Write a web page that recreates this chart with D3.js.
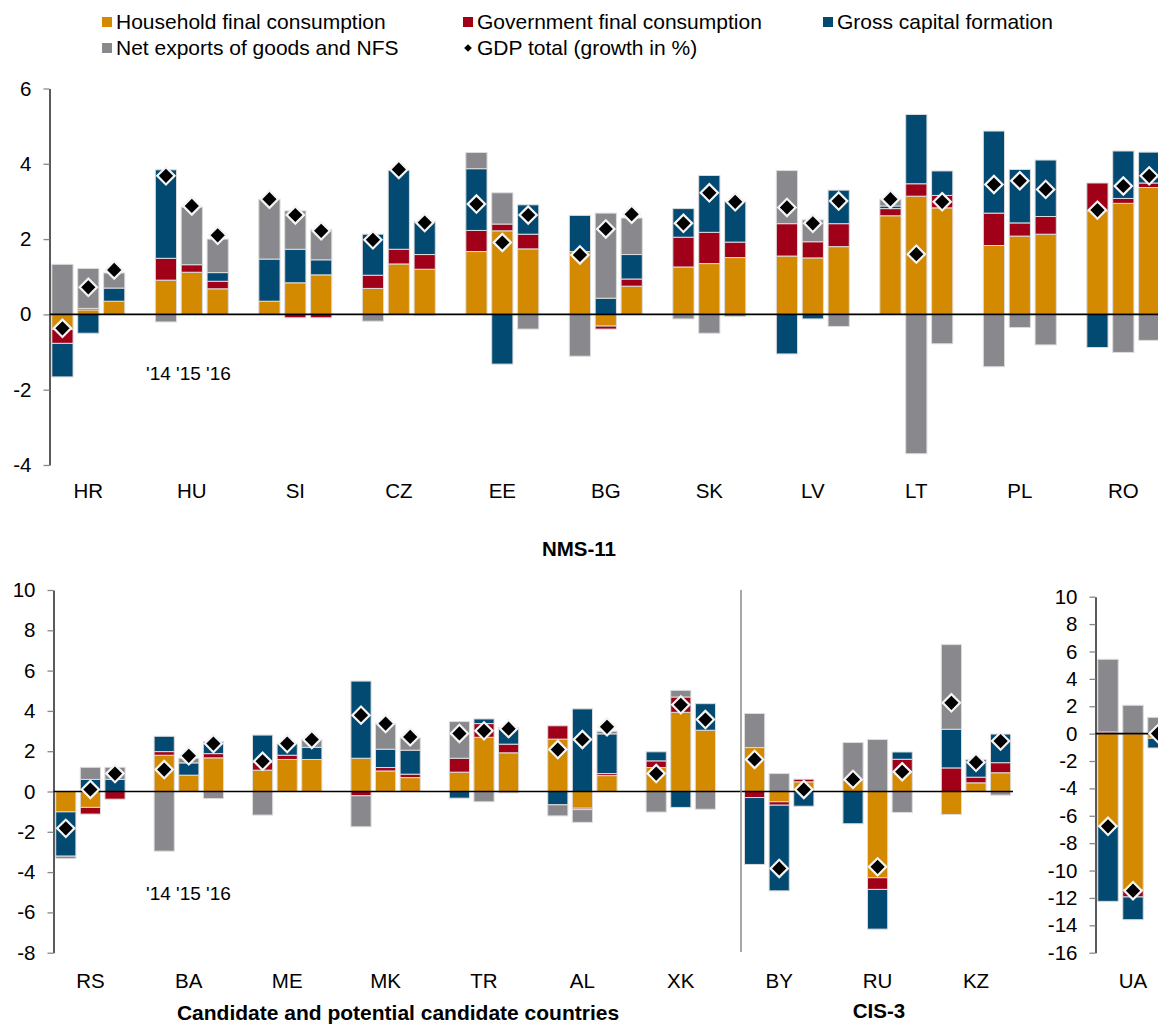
<!DOCTYPE html>
<html><head><meta charset="utf-8">
<script src="https://cdn.jsdelivr.net/npm/d3@7"></script>
<style>
body{margin:0;background:#fff}
text{font-family:"Liberation Sans",Arial,sans-serif;fill:#000}
</style>
</head><body>
<svg id="c" width="1158" height="1025"></svg>
<script>
// ---------- data ----------
const years = ["'14", "'15", "'16"];
const seriesNames = ["Household final consumption", "Government final consumption", "Gross capital formation", "Net exports of goods and NFS"];
const gdpName = "GDP total (growth in %)";
const seriesColors = ["#D48A00", "#A00018", "#034A72", "#89888D"];

// NMS-11 (top panel)
const nmsCountries = ["HR", "HU", "SI", "CZ", "EE", "BG", "SK", "LV", "LT", "PL", "RO"];
const nmsHousehold = [[-0.40,0.12,0.35],[0.91,1.12,0.68],[0.35,0.84,1.05],[0.69,1.34,1.20],[1.67,2.22,1.74],[1.67,-0.31,0.75],[1.26,1.35,1.51],[1.55,1.50,1.80],[2.62,3.14,2.83],[1.83,2.08,2.13],[2.75,2.95,3.37]];
const nmsGovernment = [[-0.37,0.04,0],[0.58,0.20,0.20],[0,-0.09,-0.09],[0.35,0.39,0.39],[0.56,0.18,0.39],[0,-0.08,0.19],[0.79,0.83,0.41],[0.86,0.43,0.61],[0.19,0.33,0.33],[0.86,0.35,0.47],[0.74,0.13,0.12]];
const nmsCapital = [[-0.89,-0.50,0.35],[2.35,0,0.23],[1.12,0.89,0.40],[1.09,2.10,0.87],[1.64,-1.32,0.78],[0.96,0.43,0.65],[0.76,1.51,1.08],[-1.05,-0.12,0.89],[0.07,1.84,0.65],[2.18,1.42,1.50],[-0.88,1.26,0.82]];
const nmsNetExports = [[1.33,1.06,0.40],[-0.20,1.53,0.89],[1.59,1.02,0.80],[-0.18,0,-0.03],[0.43,0.83,-0.39],[-1.11,2.26,0.97],[-0.12,-0.50,-0.06],[1.41,0.58,-0.32],[0.18,-3.70,-0.78],[-1.39,-0.35,-0.81],[0,-1.01,-0.69]];
const nmsGDP = [[-0.37,0.72,1.18],[3.68,2.88,2.10],[3.06,2.64,2.22],[1.98,3.85,2.44],[2.93,1.91,2.64],[1.58,2.27,2.66],[2.42,3.23,2.99],[2.84,2.42,3.01],[3.06,1.60,2.99],[3.45,3.55,3.32],[2.77,3.41,3.68]];

// Candidate countries + CIS-3 (bottom panel)
const candCountries = ["RS", "BA", "ME", "MK", "TR", "AL", "XK", "BY", "RU", "KZ"];
const candHousehold = [[-1.01,-0.79,0],[1.80,0.81,1.67],[1.06,1.59,1.59],[1.65,1.02,0.69],[0.96,2.69,1.92],[2.60,-0.83,0.79],[1.19,3.93,3.04],[2.18,-0.51,0.48],[0.56,-4.28,0.96],[-1.14,0.43,0.93]];
const candGovernment = [[0,-0.33,-0.38],[0.18,0,0.21],[0.40,0.21,0],[-0.21,0.17,0.17],[0.69,0.68,0.43],[0.66,-0.07,0.10],[0.33,0.76,0],[-0.30,-0.17,0.13],[0,-0.58,0.64],[1.17,0.28,0.50]];
const candCapital = [[-2.20,0.60,0.60],[0.76,0.61,0.60],[1.34,0.58,0.60],[3.83,0.91,1.19],[-0.33,0.23,0.81],[-0.66,4.10,1.97],[0.45,-0.79,1.32],[-3.32,-4.25,-0.73],[-1.60,-1.97,0.36],[1.92,0.88,1.42]];
const candNetExports = [[-0.12,0.60,0.60],[-2.96,0.23,-0.35],[-1.17,0,0.40],[-1.54,1.27,0.61],[1.82,-0.51,-0.07],[-0.55,-0.63,0.13],[-1.02,0.33,-0.88],[1.69,0.89,0],[1.87,2.58,-1.04],[4.20,0,-0.18]];
const candGDP = [[-1.83,0.10,0.89],[1.09,1.77,2.38],[1.50,2.38,2.58],[3.79,3.37,2.71],[2.88,3.01,3.12],[2.08,2.58,3.21],[0.89,4.30,3.57],[1.59,-3.82,0.10],[0.60,-3.74,0.98],[4.40,1.45,2.50]];

// Ukraine (separate panel)
const uaCountries = ["UA"];
const uaHousehold = [[-6.77,-11.39,-0.34]];
const uaGovernment = [[0.12,-0.54,0]];
const uaCapital = [[-5.48,-1.66,-0.71]];
const uaNetExports = [[5.31,2.07,1.19]];
const uaGDP = [[-6.77,-11.47,0.0]];

const nmsTicks = [-4,-2,0,2,4,6];
const candTicks = [-8,-6,-4,-2,0,2,4,6,8,10];
const uaTicks = [-16,-14,-12,-10,-8,-6,-4,-2,0,2,4,6,8,10];

// ---------- drawing ----------
const svg = d3.select("#c");
svg.append("rect").attr("width",1158).attr("height",1025).attr("fill","#fff");
const FONT = 20.5;

function drawPanel(o) {
  const keys = [];
  o.countries.forEach((c,i) => {
    years.forEach(yr => keys.push(c + "|" + yr));
    if (o.trailingGap || i < o.countries.length - 1) keys.push(c + "|gap");
  });
  const x = d3.scaleBand().domain(keys)
    .range([o.axisX, o.axisX + keys.length * o.slot])
    .paddingInner(0.18).paddingOuter(0.09);
  const y = d3.scaleLinear().domain(o.yDomain).range(o.yRange);

  const rows = [];
  o.countries.forEach((c,i) => years.forEach((yr,j) => rows.push({
    key: c + "|" + yr, hh: o.hh[i][j], gov: o.gov[i][j], gcf: o.gcf[i][j], nx: o.nx[i][j], gdp: o.gdp[i][j]
  })));
  const stack = d3.stack().keys(["hh","gov","gcf","nx"]).offset(d3.stackOffsetDiverging);
  const layers = stack(rows);

  const g = svg.append("g");
  const ax = g.append("g").attr("transform", `translate(${o.axisX},0)`)
    .call(d3.axisLeft(y).tickValues(o.ticks).tickSize(6).tickSizeOuter(0).tickPadding(12).tickFormat(d3.format("d")));
  ax.select(".domain").attr("stroke","#000").attr("stroke-width",1.3);
  ax.selectAll(".tick line").attr("stroke","#888").attr("stroke-width",1.3);
  ax.selectAll(".tick text").attr("font-size", FONT).attr("fill","#000")
    .attr("font-family",'"Liberation Sans",Arial,sans-serif').text(d => d < 0 ? "-" + Math.abs(d) : d);

  layers.forEach((layer, si) => {
    g.append("g").selectAll("rect").data(layer.filter(d => d[1] - d[0] !== 0)).join("rect")
      .attr("x", d => x(d.data.key))
      .attr("width", x.bandwidth())
      .attr("y", d => y(Math.max(d[0], d[1])))
      .attr("height", d => Math.abs(y(d[0]) - y(d[1])))
      .attr("fill", seriesColors[si])
      .attr("stroke", "#dcdcdc").attr("stroke-width", 1);
  });

  g.append("line").attr("x1", o.axisX).attr("x2", o.zeroEnd)
    .attr("y1", y(0)).attr("y2", y(0)).attr("stroke","#000").attr("stroke-width",1.6);

  const sym = d3.symbol().type(d3.symbolSquare).size(150);
  g.append("g").selectAll("path").data(rows).join("path")
    .attr("d", sym)
    .attr("transform", d => `translate(${x(d.key) + x.bandwidth()/2},${y(d.gdp)}) rotate(45)`)
    .attr("fill","#000").attr("stroke","#f4f4f4").attr("stroke-width",2.2);

  g.append("g").selectAll("text").data(o.countries).join("text")
    .attr("x", c => x(c + "|'15") + x.bandwidth()/2)
    .attr("y", o.labelY)
    .attr("text-anchor","middle").attr("font-size", FONT)
    .text(c => c);
  return {x, y};
}

drawPanel({countries: nmsCountries, hh: nmsHousehold, gov: nmsGovernment, gcf: nmsCapital, nx: nmsNetExports, gdp: nmsGDP,
  axisX: 49.5, slot: 25.875, trailingGap: true, yDomain: [-4, 6], yRange: [465, 88.5], ticks: nmsTicks,
  zeroEnd: 1158, labelY: 498});

drawPanel({countries: candCountries, hh: candHousehold, gov: candGovernment, gcf: candCapital, nx: candNetExports, gdp: candGDP,
  axisX: 53.5, slot: 24.6, trailingGap: false, yDomain: [-8, 10], yRange: [952.7, 590], ticks: candTicks,
  zeroEnd: 1013, labelY: 988});

drawPanel({countries: uaCountries, hh: uaHousehold, gov: uaGovernment, gcf: uaCapital, nx: uaNetExports, gdp: uaGDP,
  axisX: 1095.5, slot: 25, trailingGap: true, yDomain: [-16, 10], yRange: [952.7, 596.7], ticks: uaTicks,
  zeroEnd: 1158, labelY: 988});

svg.append("line").attr("x1",741).attr("x2",741).attr("y1",590).attr("y2",952)
  .attr("stroke","#8a8a8a").attr("stroke-width",1.5);

svg.append("text").attr("x",146).attr("y",380).attr("font-size",19).text("'14 '15 '16");
svg.append("text").attr("x",146).attr("y",900).attr("font-size",19).text("'14 '15 '16");

svg.append("text").attr("x",579).attr("y",556).attr("text-anchor","middle").attr("font-size",20.5).attr("font-weight","bold").text("NMS-11");
svg.append("text").attr("x",398).attr("y",1020).attr("text-anchor","middle").attr("font-size",21).attr("font-weight","bold").text("Candidate and potential candidate countries");
svg.append("text").attr("x",879).attr("y",1018).attr("text-anchor","middle").attr("font-size",20.5).attr("font-weight","bold").text("CIS-3");

const legendItems = [
  {name: seriesNames[0], color: seriesColors[0], x: 102, y: 22},
  {name: seriesNames[1], color: seriesColors[1], x: 463, y: 22},
  {name: seriesNames[2], color: seriesColors[2], x: 823, y: 22},
  {name: seriesNames[3], color: seriesColors[3], x: 102, y: 48},
  {name: gdpName, color: null, x: 463, y: 48}
];
const lg = svg.append("g");
legendItems.forEach(it => {
  if (it.color) {
    lg.append("rect").attr("x", it.x).attr("y", it.y - 5).attr("width", 10).attr("height", 10).attr("fill", it.color);
  } else {
    lg.append("path").attr("d", d3.symbol().type(d3.symbolSquare).size(30))
      .attr("transform", `translate(${it.x + 5},${it.y}) rotate(45)`).attr("fill","#000");
  }
  lg.append("text").attr("x", it.x + 14).attr("y", it.y + 7).attr("font-size", 21).text(it.name);
});
</script>
</body></html>
